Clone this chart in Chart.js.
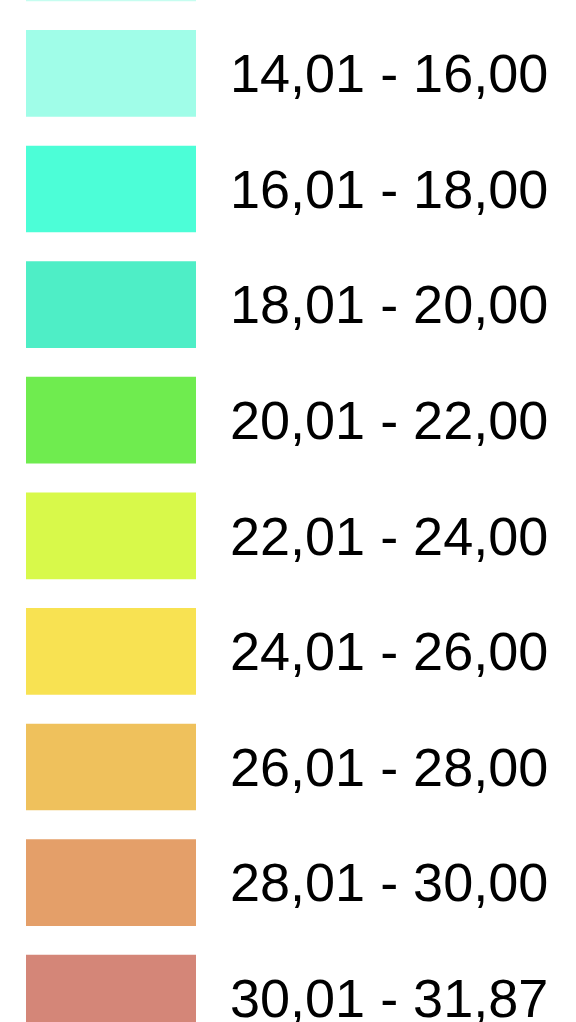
<!DOCTYPE html>
<html>
<head>
<meta charset="utf-8">
<script src="https://cdn.jsdelivr.net/npm/chart.js@4/dist/chart.umd.min.js"></script>
<style>
    html, body { margin: 0; padding: 0; background: #ffffff; overflow: hidden; }
    #marco { position: absolute; left: 0; top: -100px; width: 576px; height: 1156px; }
</style>
</head>
<body>
<div id="marco"><canvas id="grafico-leyenda" width="576" height="1156"></canvas></div>
<script>
// Rangos de la leyenda (el primero y el último quedan cortados por el borde)
const rangos = ['12,01 - 14,00', '14,01 - 16,00', '16,01 - 18,00', '18,01 - 20,00', '20,01 - 22,00',
    '22,01 - 24,00', '24,01 - 26,00', '26,01 - 28,00', '28,01 - 30,00', '30,01 - 31,87'];
// Cada casilla ocupa el ancho completo
const valores = [1, 1, 1, 1, 1, 1, 1, 1, 1, 1];
const colores = ['#c6fdf0', '#a0fde8', '#4cfed7', '#4eeec6', '#6fec4f',
    '#d8f94a', '#f8e252', '#efc15c', '#e49f69', '#d48678'];

const ctx = document.getElementById('grafico-leyenda');

new Chart(ctx, {
    type: 'bar',
    data: {
        labels: rangos,
        datasets: [{
            data: valores,
            backgroundColor: colores,
            borderWidth: 0,
            barThickness: 86
        }]
    },
    options: {
        indexAxis: 'y',
        responsive: false,
        animation: false,
        layout: { padding: { left: 26, right: 0, top: 0, bottom: 0 } },
        plugins: {
            legend: { display: false },
            tooltip: { enabled: false }
        },
        scales: {
            x: { display: false, min: 0, max: 1 },
            y: {
                position: 'right',
                grid: { display: false, drawTicks: false },
                border: { display: false },
                ticks: {
                    padding: 34,
                    labelOffset: 4,
                    color: '#000000',
                    font: { family: '"Liberation Sans", Arial, sans-serif', size: 54 }
                },
                // sin relleno extra arriba/abajo por el alto de las etiquetas
                afterFit: (escala) => {
                    escala.width = 380;
                    escala.paddingTop = 0;
                    escala.paddingBottom = 0;
                }
            }
        }
    }
});
</script>
</body>
</html>
